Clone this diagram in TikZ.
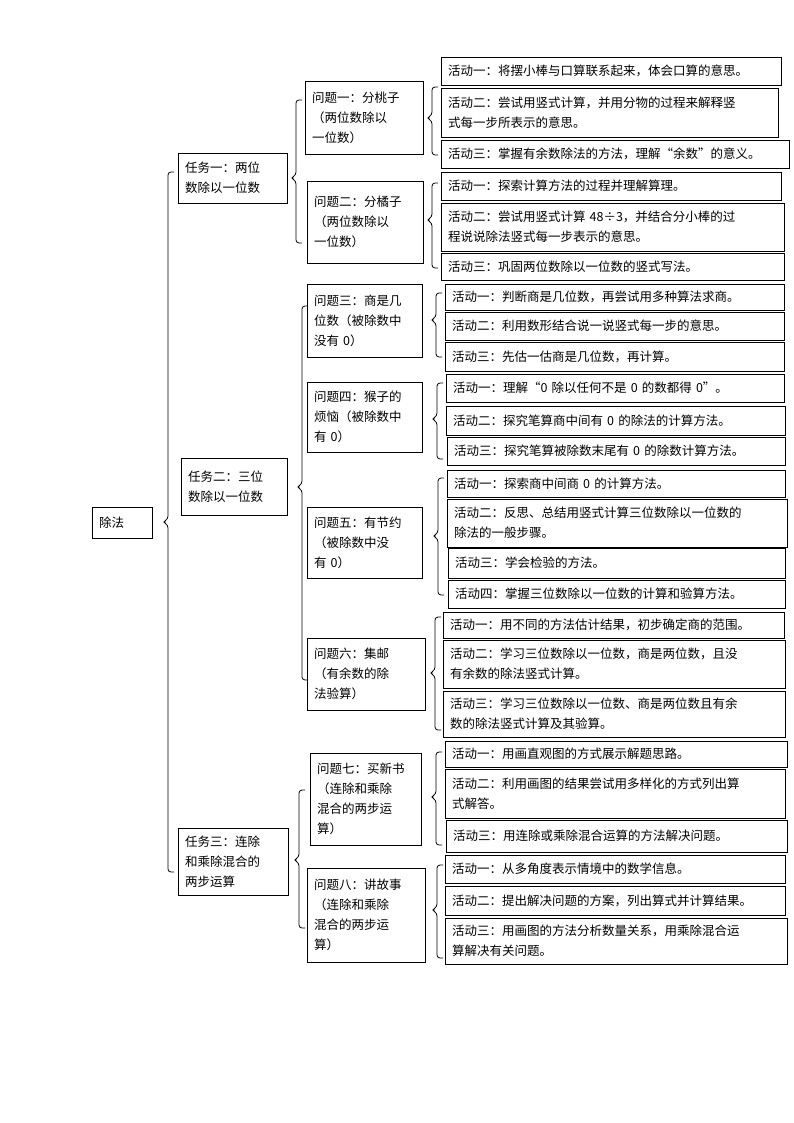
\documentclass[tikz,border=0pt]{standalone}
\usepackage{fontspec}
\setmainfont{Noto Sans CJK SC}
\XeTeXlinebreaklocale "zh"
\XeTeXlinebreakskip=0pt plus 1pt
\tikzset{box/.style={draw,line width=0.8pt,inner sep=0pt,align=left,font=\fontsize{12.5}{20}\selectfont},
brc/.style={line width=0.8pt,rounded corners=3pt}}
\newcommand\bx[6]{\pgfmathsetmacro\tw{#4-#2-14}\node[box,minimum width={(#4-#2)*1pt},minimum height={(#5-#3)*1pt},text width=\tw pt] (#1) at ({(#2+#4)/2},{(#3+#5)/2}) {#6};}
\newcommand\brc[4]{\draw[brc] ({#1+6},#2) -- (#1,#2) -- (#1,{#4-3}) -- ({#1-5},#4) -- (#1,{#4+3}) -- (#1,#3) -- ({#1+6},#3);}
\begin{document}
\begin{tikzpicture}[x=1pt,y=-1pt]
\path[fill=white] (0,0) rectangle (794,1123);
\bx{root}{92}{507}{152}{538}{除法}
\bx{t1}{178}{153}{287}{203}{任务一：两位\\数除以一位数}
\bx{t2}{181}{458}{287}{515}{任务二：三位\\数除以一位数}
\bx{t3}{178}{828}{288}{895}{任务三：连除\\和乘除混合的\\两步运算}
\bx{q1}{305}{81}{423}{154}{问题一：分桃子\\（两位数除以\\一位数）}
\bx{q2}{307}{181}{423}{263}{问题二：分橘子\\（两位数除以\\一位数）}
\bx{q3}{307}{284}{422}{357}{问题三：商是几\\位数（被除数中\\没有 0）}
\bx{q4}{307}{382}{422}{452}{问题四：猴子的\\烦恼（被除数中\\有 0）}
\bx{q5}{307}{507}{422}{578}{问题五：有节约\\（被除数中没\\有 0）}
\bx{q6}{307}{638}{425}{710}{问题六：集邮\\（有余数的除\\法验算）}
\bx{q7}{310}{753}{421}{845}{问题七：买新书\\（连除和乘除\\混合的两步运\\算）}
\bx{q8}{307}{868}{425}{962}{问题八：讲故事\\（连除和乘除\\混合的两步运\\算）}
\bx{a11}{441}{57}{781}{85}{活动一：将摆小棒与口算联系起来，体会口算的意思。}
\bx{a12}{441}{88}{778}{137}{活动二：尝试用竖式计算，并用分物的过程来解释竖\\式每一步所表示的意思。}
\bx{a13}{441}{140}{789}{168}{活动三：掌握有余数除法的方法，理解“余数”的意义。}
\bx{a21}{441}{172}{781}{200}{活动一：探索计算方法的过程并理解算理。}
\bx{a22}{441}{203}{784}{251}{活动二：尝试用竖式计算 48÷3，并结合分小棒的过\\程说说除法竖式每一步表示的意思。}
\bx{a23}{441}{253}{784}{280}{活动三：巩固两位数除以一位数的竖式写法。}
\bx{a31}{445}{284}{784}{310}{活动一：判断商是几位数，再尝试用多种算法求商。}
\bx{a32}{445}{312}{784}{340}{活动二：利用数形结合说一说竖式每一步的意思。}
\bx{a33}{445}{342}{784}{371}{活动三：先估一估商是几位数，再计算。}
\bx{a41}{446}{374}{784}{402}{活动一：理解“0 除以任何不是 0 的数都得 0”。}
\bx{a42}{446}{406}{785}{435}{活动二：探究笔算商中间有 0 的除法的计算方法。}
\bx{a43}{447}{437}{785}{465}{活动三：探究笔算被除数末尾有 0 的除数计算方法。}
\bx{a51}{447}{470}{785}{497}{活动一：探索商中间商 0 的计算方法。}
\bx{a52}{447}{499}{787}{547}{活动二：反思、总结用竖式计算三位数除以一位数的\\除法的一般步骤。}
\bx{a53}{448}{548}{785}{578}{活动三：学会检验的方法。}
\bx{a54}{448}{580}{785}{608}{活动四：掌握三位数除以一位数的计算和验算方法。}
\bx{a61}{443}{612}{784}{638}{活动一：用不同的方法估计结果，初步确定商的范围。}
\bx{a62}{443}{640}{785}{688}{活动二：学习三位数除以一位数，商是两位数，且没\\有余数的除法竖式计算。}
\bx{a63}{443}{691}{785}{737}{活动三：学习三位数除以一位数、商是两位数且有余\\数的除法竖式计算及其验算。}
\bx{a71}{445}{741}{787}{767}{活动一：用画直观图的方式展示解题思路。}
\bx{a72}{445}{769}{785}{818}{活动二：利用画图的结果尝试用多样化的方式列出算\\式解答。}
\bx{a73}{446}{820}{787}{852}{活动三：用连除或乘除混合运算的方法解决问题。}
\bx{a81}{445}{855}{785}{883}{活动一：从多角度表示情境中的数学信息。}
\bx{a82}{445}{886}{785}{915}{活动二：提出解决问题的方案，列出算式并计算结果。}
\bx{a83}{445}{918}{787}{964}{活动三：用画图的方法分析数量关系，用乘除混合运\\算解决有关问题。}
\brc{168}{172}{872}{522}
\brc{296}{100}{243}{178}
\brc{302}{306}{680}{487}
\brc{299}{790}{928}{860}
\brc{432}{87}{155}{118}
\brc{432}{183}{268}{220}
\brc{436}{293}{357}{320}
\brc{437}{383}{459}{419}
\brc{438}{478}{595}{536}
\brc{435}{617}{730}{673}
\brc{436}{752}{845}{797}
\brc{437}{865}{958}{910}
\end{tikzpicture}
\end{document}
